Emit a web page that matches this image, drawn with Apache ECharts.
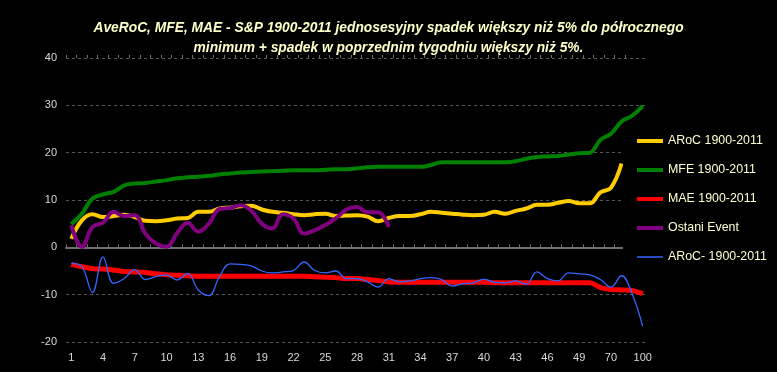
<!DOCTYPE html>
<html>
<head>
<meta charset="utf-8">
<script src="https://cdn.jsdelivr.net/npm/echarts@6/dist/echarts.min.js"></script>
<style>html,body{margin:0;padding:0;background:#000;}#c{width:777px;height:372px;}</style>
</head>
<body>
<div id="c"></div>
<script>
var categories = ['1','2','3','4','5','6','7','8','9','10','11','12','13','14','15','16','17','18','19','20','21','22','23','24','25','26','27','28','29','30','31','32','33','34','35','36','37','38','39','40','41','42','43','44','45','46','47','48','49','50','60','70','80','90','100'];
var aroc = [1.8,5.7,7.0,6.4,6.6,6.9,6.4,5.6,5.5,5.7,6.1,6.2,7.5,7.5,8.2,8.4,8.7,8.8,8.0,7.5,7.3,7.0,6.8,7.0,7.1,6.6,6.7,6.8,6.5,5.5,6.2,6.6,6.6,7.0,7.5,7.3,7.1,6.9,6.8,6.9,7.5,7.1,7.7,8.2,9.0,9.0,9.4,9.8,9.3,9.3,11.6,12.6,17.7,null,null];
var mfe = [4.9,7.1,10.3,11.2,11.7,13.1,13.5,13.6,13.9,14.2,14.6,14.8,14.9,15.1,15.4,15.6,15.8,15.9,16.0,16.1,16.2,16.3,16.3,16.3,16.4,16.5,16.5,16.7,16.9,17.0,17.0,17.0,17.0,17.0,17.4,18.0,18.0,18.0,18.0,18.0,18.0,18.0,18.2,18.7,19.1,19.2,19.3,19.6,19.9,20.0,22.7,24.0,26.6,27.8,29.9];
var mae = [-3.6,-4.1,-4.5,-4.6,-4.8,-5.1,-5.2,-5.3,-5.6,-5.8,-5.9,-6.0,-6.1,-6.1,-6.1,-6.1,-6.1,-6.1,-6.1,-6.1,-6.1,-6.1,-6.1,-6.2,-6.3,-6.4,-6.6,-6.6,-6.8,-7.0,-7.3,-7.4,-7.4,-7.4,-7.4,-7.4,-7.4,-7.4,-7.4,-7.4,-7.5,-7.5,-7.5,-7.5,-7.5,-7.5,-7.5,-7.5,-7.5,-7.5,-8.5,-8.9,-9.0,-9.1,-9.8];
var ostani = [4.7,0.1,4.3,5.2,7.5,6.6,6.8,2.9,0.8,0.1,3.0,5.2,3.3,5.0,8.1,8.3,8.9,7.8,5.0,4.0,7.0,6.1,2.9,3.6,4.7,6.1,8.0,8.5,7.4,7.4,4.3];
var arocMinus = [-3.4,-4.1,-9.5,-2.0,-7.6,-6.6,-4.7,-6.8,-6.2,-5.8,-6.9,-5.5,-9.0,-10.2,-6.2,-3.5,-3.6,-3.9,-5.0,-5.4,-5.2,-4.9,-3.1,-4.9,-5.4,-5.0,-6.6,-6.6,-7.3,-8.4,-6.6,-7.3,-7.1,-6.6,-6.4,-6.8,-8.2,-7.7,-7.5,-6.7,-7.4,-7.5,-7.1,-7.8,-5.2,-6.6,-7.1,-5.4,-5.6,-5.8,-6.8,-8.4,-6.0,-9.8,-16.7];
var seriesNames = ['ARoC 1900-2011','MFE 1900-2011','MAE 1900-2011','Ostani Event','ARoC- 1900-2011'];
var axisTickSlots = new Array(53).fill('');

var FONT = '"Liberation Sans", Arial, sans-serif';
var chart = echarts.init(document.getElementById('c'), null, {renderer:'canvas'});

function lineSeries(name, data, color, width, smooth, z) {
  return {
    name: name, type: 'line', data: data, xAxisIndex: 0, yAxisIndex: 0,
    symbol: 'none', showSymbol: false, smooth: smooth, connectNulls: false, z: z,
    lineStyle: {color: color, width: width},
    itemStyle: {color: color},
    animation: false
  };
}

// legend marker thickness (style)
var legendThick = [4, 4, 4, 4, 1.5];

chart.setOption({
  backgroundColor: '#000000',
  animation: false,
  title: {
    text: 'AveRoC, MFE, MAE - S&P 1900-2011 jednosesyjny spadek większy niż 5% do półrocznego\nminimum + spadek w poprzednim tygodniu większy niż 5%.',
    left: 'center', top: 13,
    textStyle: {color: '#FFFFC8', fontSize: 13.8, fontWeight: 'bold', fontStyle: 'italic', fontFamily: FONT, lineHeight: 20}
  },
  legend: {
    orient: 'vertical', left: 623, top: 124,
    padding: [10, 8, 8, 14],
    backgroundColor: '#000000',
    itemGap: 15, itemWidth: 26, itemHeight: 14,
    textStyle: {color: '#FFFFD0', fontSize: 12.4, fontFamily: FONT},
    data: seriesNames.map(function (n, i) {
      var t = legendThick[i];
      var y0 = 7 - t / 2;
      return {name: n, icon: 'path://M0,' + y0 + 'L26,' + y0 + 'L26,' + (y0 + t) + 'L0,' + (y0 + t) + 'Z M0,0 L0.01,0 L0.01,14 L0,14 Z M25.99,0 L26,0 L26,14 L25.99,14 Z'};
    }),
    z: 10
  },
  grid: [
    {left: 66, right: 129, top: 58, bottom: 30, containLabel: false},
    {left: 66, right: 152, top: 58, bottom: 30, containLabel: false}
  ],
  xAxis: [
    {
      gridIndex: 0, type: 'category', data: categories, boundaryGap: true, position: 'bottom',
      axisLine: {show: false, onZero: false}, axisTick: {show: false},
      axisLabel: {interval: 2, color: '#D8D8D8', fontSize: 11, fontFamily: FONT, margin: 10},
      splitLine: {show: false}
    },
    {
      gridIndex: 1, type: 'category', data: axisTickSlots, boundaryGap: true,
      axisLine: {show: true, onZero: true, lineStyle: {color: '#707070', width: 2}},
      axisTick: {show: true, interval: 0, inside: true, length: 3, lineStyle: {color: '#707070', width: 1}},
      axisLabel: {show: false}, splitLine: {show: false}
    },
    {
      gridIndex: 1, type: 'category', data: axisTickSlots, boundaryGap: true,
      axisLine: {show: false, onZero: true},
      axisTick: {show: true, interval: 0, inside: false, length: 3, lineStyle: {color: '#707070', width: 1}},
      axisLabel: {show: false}, splitLine: {show: false}
    }
  ],
  yAxis: [
    {
      gridIndex: 0, type: 'value', min: -20, max: 40, interval: 10,
      axisLine: {show: false}, axisTick: {show: false},
      axisLabel: {color: '#D8D8D8', fontSize: 11, fontFamily: FONT, margin: 9},
      splitLine: {show: true, lineStyle: {color: '#5A5A5A', type: [3, 3], width: 1}}
    },
    {
      gridIndex: 1, type: 'value', min: -20, max: 40, interval: 10, show: false,
      splitLine: {show: false}
    }
  ],
  series: [
    lineSeries(seriesNames[0], aroc, '#FFCC00', 4, 0.4, 2),
    lineSeries(seriesNames[1], mfe, '#008000', 4, 0.4, 2),
    lineSeries(seriesNames[2], mae, '#FF0000', 5, 0.3, 2),
    lineSeries(seriesNames[3], ostani, '#800080', 4, 0.4, 2),
    lineSeries(seriesNames[4], arocMinus, '#3366FF', 1.3, 0.4, 2)
  ]
});
</script>
</body>
</html>
